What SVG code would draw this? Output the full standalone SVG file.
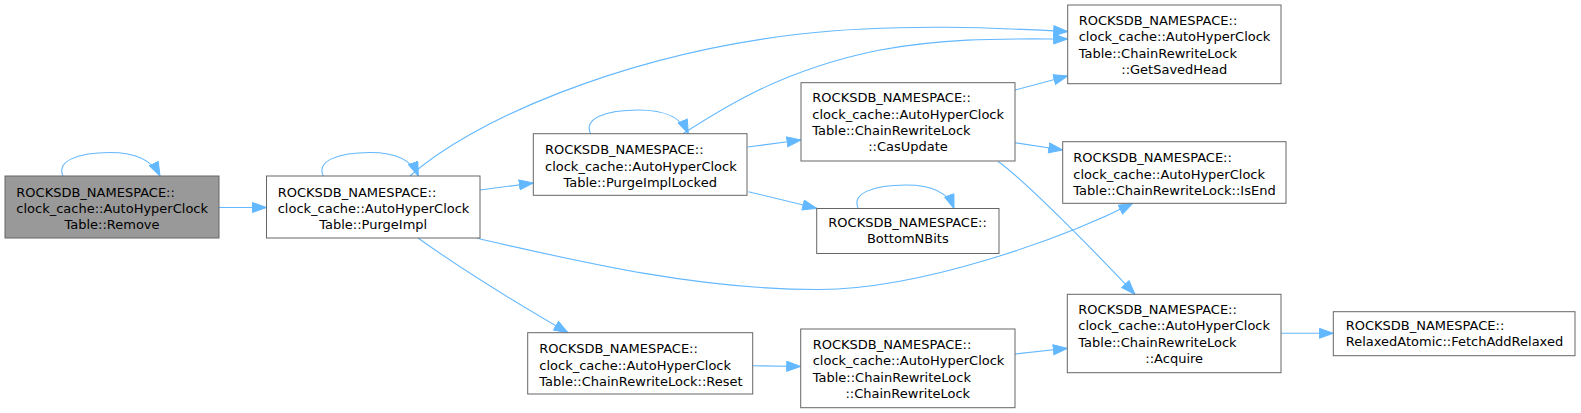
<svg xmlns="http://www.w3.org/2000/svg" width="1581" height="413" viewBox="0 0 1581 413">
<style>
  .box { fill: #ffffff; stroke: #666666; stroke-width: 1; }
  .sel { fill: #999999; stroke: #666666; stroke-width: 1; }
  text { font-family: "DejaVu Sans", "Liberation Sans", sans-serif; font-size: 13px; fill: #000000; }
  .c { text-anchor: middle; }
  .e { fill: none; stroke: #63b8ff; stroke-width: 1.1; marker-end: url(#arr); }
</style>
<defs>
  <marker id="arr" markerUnits="userSpaceOnUse" markerWidth="16" markerHeight="12" refX="14.5" refY="5.5" orient="auto">
    <path d="M0.5,0.5 L14.5,5.5 L0.5,10.5 z" fill="#63b8ff" stroke="#63b8ff" stroke-width="1"/>
  </marker>
</defs>
<rect width="1581" height="413" fill="#ffffff"/>

<g id="connectors">
  <path class="e" d="M63,176 C56,161 78,152.5 110,152.5 C136,152.5 152,160 160,176"/>
  <path class="e" d="M323.3,176 C316,161 338,152.5 370,152.5 C396,152.5 412,160 418.3,176"/>
  <path class="e" d="M590.7,133.7 C583,119 605,110 639,110 C665,110 681,117 688.3,133.7"/>
  <path class="e" d="M858.3,208.5 C851,193.5 873,185 906,185 C932,185 948,192 954,208.5"/>
  <path class="e" d="M219,207.5 L266.5,207.5"/>
  <path class="e" d="M480,190 L533.3,183"/>
  <path class="e" d="M410,176 C470,122 620,55 800,34 C900,23 1000,28 1067.7,31.5"/>
  <path class="e" d="M683,133.7 C720,110 780,70 880,50 C950,37 1010,39 1067.7,39"/>
  <path class="e" d="M747.7,147 L801,140"/>
  <path class="e" d="M748.3,191.7 L816.7,208.3"/>
  <path class="e" d="M1015,90 L1067.7,76"/>
  <path class="e" d="M1015,142.7 L1062.7,150"/>
  <path class="e" d="M998,161.5 C1025,180 1100,257 1135,294.3"/>
  <path class="e" d="M477,238.3 C580,262 700,290 820,289.5 C920,289 1060,240 1132.7,203.3"/>
  <path class="e" d="M418,238 C460,268 520,305 568,332.7"/>
  <path class="e" d="M752.7,365.7 L800.7,366.5"/>
  <path class="e" d="M1015,354 L1067.3,348.3"/>
  <path class="e" d="M1281,333.3 L1333.3,333.3"/>
</g>

<g id="node-remove">
  <rect class="sel" x="5" y="176" width="214" height="62"/>
  <text x="16.3" y="196.7">ROCKSDB_NAMESPACE::</text>
  <text x="16.3" y="213">clock_cache::AutoHyperClock</text>
  <text class="c" x="112" y="229.3">Table::Remove</text>
</g>

<g id="node-purgeimpl">
  <rect class="box" x="266.5" y="176" width="213.5" height="62"/>
  <text x="277.7" y="196.7">ROCKSDB_NAMESPACE::</text>
  <text x="277.7" y="213">clock_cache::AutoHyperClock</text>
  <text class="c" x="373.2" y="229.3">Table::PurgeImpl</text>
</g>

<g id="node-purgeimpllocked">
  <rect class="box" x="533.3" y="133.7" width="213.7" height="61.6"/>
  <text x="545" y="154.3">ROCKSDB_NAMESPACE::</text>
  <text x="545" y="170.6">clock_cache::AutoHyperClock</text>
  <text class="c" x="640.2" y="186.9">Table::PurgeImplLocked</text>
</g>

<g id="node-casupdate">
  <rect class="box" x="801" y="82.7" width="214" height="78.3"/>
  <text x="812.3" y="102.4">ROCKSDB_NAMESPACE::</text>
  <text x="812.3" y="118.7">clock_cache::AutoHyperClock</text>
  <text x="812.3" y="135">Table::ChainRewriteLock</text>
  <text class="c" x="908" y="151.3">::CasUpdate</text>
</g>

<g id="node-bottomnbits">
  <rect class="box" x="816.7" y="208.5" width="182.3" height="45"/>
  <text x="828.3" y="227">ROCKSDB_NAMESPACE::</text>
  <text class="c" x="907.8" y="243.3">BottomNBits</text>
</g>

<g id="node-getsavedhead">
  <rect class="box" x="1067.7" y="5" width="213.3" height="78.7"/>
  <text x="1078.7" y="24.9">ROCKSDB_NAMESPACE::</text>
  <text x="1078.7" y="41.2">clock_cache::AutoHyperClock</text>
  <text x="1078.7" y="57.5">Table::ChainRewriteLock</text>
  <text class="c" x="1174.3" y="73.8">::GetSavedHead</text>
</g>

<g id="node-isend">
  <rect class="box" x="1062.7" y="141.7" width="223.3" height="61.6"/>
  <text x="1073.3" y="162.3">ROCKSDB_NAMESPACE::</text>
  <text x="1073.3" y="178.6">clock_cache::AutoHyperClock</text>
  <text x="1073.3" y="194.9">Table::ChainRewriteLock::IsEnd</text>
</g>

<g id="node-reset">
  <rect class="box" x="527.7" y="332.7" width="225" height="61.3"/>
  <text x="539.3" y="353.2">ROCKSDB_NAMESPACE::</text>
  <text x="539.3" y="369.5">clock_cache::AutoHyperClock</text>
  <text x="539.3" y="385.8">Table::ChainRewriteLock::Reset</text>
</g>

<g id="node-chainrewritelock">
  <rect class="box" x="800.7" y="329" width="214.3" height="78.7"/>
  <text x="812.7" y="348.9">ROCKSDB_NAMESPACE::</text>
  <text x="812.7" y="365.2">clock_cache::AutoHyperClock</text>
  <text x="812.7" y="381.5">Table::ChainRewriteLock</text>
  <text class="c" x="907.8" y="397.8">::ChainRewriteLock</text>
</g>

<g id="node-acquire">
  <rect class="box" x="1067.3" y="294.3" width="213.7" height="78.4"/>
  <text x="1078.3" y="314">ROCKSDB_NAMESPACE::</text>
  <text x="1078.3" y="330.3">clock_cache::AutoHyperClock</text>
  <text x="1078.3" y="346.6">Table::ChainRewriteLock</text>
  <text class="c" x="1174.2" y="362.9">::Acquire</text>
</g>

<g id="node-fetchaddrelaxed">
  <rect class="box" x="1333.3" y="311.7" width="241.7" height="44"/>
  <text x="1345.7" y="330">ROCKSDB_NAMESPACE::</text>
  <text x="1345.7" y="346.3">RelaxedAtomic::FetchAddRelaxed</text>
</g>
</svg>
